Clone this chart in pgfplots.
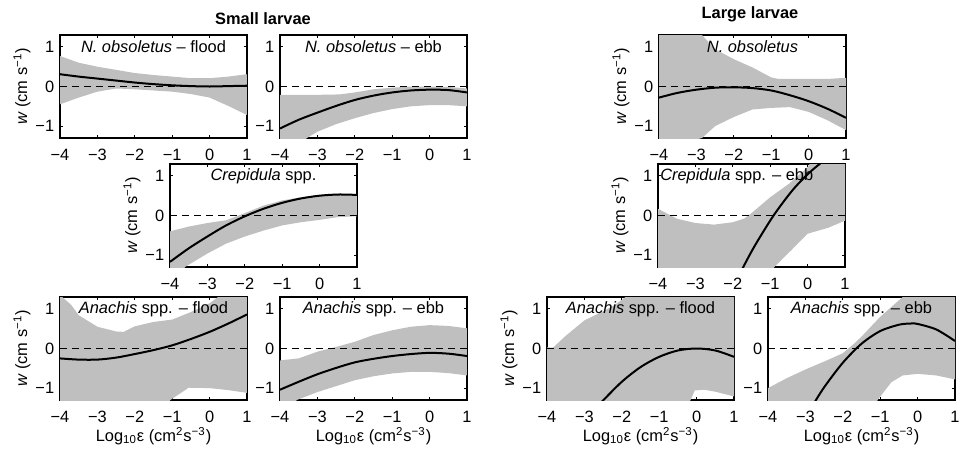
\documentclass[border=0pt]{standalone}
\usepackage{fontspec}
\setmainfont{Liberation Sans}
\usepackage{pgfplots}
\pgfplotsset{compat=1.18}
\usepgfplotslibrary{fillbetween}
\definecolor{band}{RGB}{191,191,191}

% one MATLAB-like panel; 1 px of the reference = 0.5pt
\pgfplotsset{
  panel/.style={
    scale only axis, width=93.5pt, height=51.5pt, anchor=south west,
    xmin=-4, xmax=1, ymin=-1.3, ymax=1.3,
    xtick={-4,-3,-2,-1,0,1}, ytick={-1,0,1},
    xticklabels={−4,−3,−2,−1,0,1}, yticklabels={−1,0,1},
    tick align=inside, major tick length=1.5pt,
    axis line style={line width=0.6pt},
    every tick/.style={black, line width=0.5pt},
    xticklabel style={inner sep=0pt},
    xticklabel shift=5.4pt,
    ylabel={\textit{w} (cm s\textsuperscript{−1})},
    ylabel style={at={(axis description cs:-0.203,0.5)}, anchor=center},
    xlabel style={at={(axis description cs:0.5,-0.35)}, anchor=center, inner sep=0pt},
  },
  mean/.style={black, line width=1pt, smooth},
  zero/.style={black, line width=0.5pt, dash pattern=on 3.5pt off 2.5pt},
}
\newcommand{\elab}{Log\textsubscript{10}ε (cm\textsuperscript{2}s\textsuperscript{−3})}

\begin{document}
\fontsize{8.2}{9.8}\selectfont
\begin{tikzpicture}
\node[font=\bfseries] at (131.5pt,216.5pt) {Small larvae};
\node[font=\bfseries] at (375pt,219pt) {Large larvae};

% ---------- small larvae ----------
\begin{axis}[panel, at={(30pt,157pt)}]
\addplot[draw=none, name path=u] coordinates {(-4,0.77) (-3.5,0.6) (-3,0.5) (-2.5,0.42) (-2,0.34) (-1.5,0.29) (-1,0.25) (-0.5,0.21) (0,0.21) (0.5,0.25) (1,0.31)};
\addplot[draw=none, name path=l] coordinates {(-4,-0.45) (-3.5,-0.28) (-3,-0.13) (-2.5,-0.05) (-2,-0.07) (-1.5,-0.1) (-1,-0.13) (-0.5,-0.19) (0,-0.28) (0.5,-0.49) (1,-0.72)};
\addplot[fill=band, draw=none] fill between[of=u and l];
\addplot[zero] coordinates {(-4,0) (1,0)};
\addplot[mean] coordinates {(-4,0.31) (-3.5,0.25) (-3,0.2) (-2.5,0.15) (-2,0.1) (-1.5,0.06) (-1,0.03) (-0.5,0.01) (0,0) (0.5,0.01) (1,0.02)};
\node at (axis cs:-1.5,1) {\textit{N. obsoletus} – flood};
\end{axis}

\begin{axis}[panel, at={(140pt,157pt)}, ylabel={}]
\addplot[draw=none, name path=u] coordinates {(-4,-0.21) (-3,-0.21) (-2.4,-0.2) (-2,-0.15) (-1.5,-0.07) (-1,-0.03) (-0.5,0) (0,0) (0.5,-0.01) (1,-0.05)};
\addplot[draw=none, name path=l] coordinates {(-4,-1.9) (-3.5,-1.5) (-3.28,-1.3) (-3,-1.14) (-2.5,-0.95) (-2,-0.8) (-1.5,-0.67) (-1,-0.57) (-0.5,-0.5) (0,-0.47) (0.5,-0.47) (1,-0.5)};
\addplot[fill=band, draw=none] fill between[of=u and l];
\addplot[zero] coordinates {(-4,0) (1,0)};
\addplot[mean] coordinates {(-4,-1.06) (-3.5,-0.84) (-3,-0.66) (-2.5,-0.49) (-2,-0.34) (-1.5,-0.23) (-1,-0.15) (-0.5,-0.1) (0,-0.08) (0.5,-0.09) (1,-0.15)};
\node at (axis cs:-1.5,1) {\textit{N. obsoletus} – ebb};
\end{axis}

\begin{axis}[panel, at={(85pt,92.5pt)}]
\addplot[draw=none, name path=u] coordinates {(-4,-0.4) (-3.5,-0.28) (-3,-0.19) (-2.5,-0.12) (-2,0.06) (-1.5,0.25) (-1,0.38) (-0.5,0.46) (0,0.52) (0.5,0.55) (1,0.53)};
\addplot[draw=none, name path=l] coordinates {(-4,-2) (-3.6,-1.3) (-3,-0.96) (-2.5,-0.71) (-2,-0.53) (-1.5,-0.38) (-1,-0.25) (-0.5,-0.17) (0,-0.11) (0.5,-0.04) (1,-0.02)};
\addplot[fill=band, draw=none] fill between[of=u and l];
\addplot[zero] coordinates {(-4,0) (1,0)};
\addplot[mean] coordinates {(-4,-1.17) (-3.5,-0.83) (-3,-0.53) (-2.5,-0.25) (-2,-0.02) (-1.5,0.17) (-1,0.32) (-0.5,0.43) (0,0.5) (0.5,0.53) (1,0.52)};
\node at (axis cs:-1.5,1) {\textit{Crepidula} spp.};
\end{axis}

\begin{axis}[panel, at={(30pt,26pt)}, xlabel={\elab}]
\addplot[draw=none, name path=u] coordinates {(-4,1.35) (-3.7,1.1) (-3.5,0.84) (-3,0.55) (-2.5,0.43) (-2.3,0.42) (-2,0.56) (-1.5,0.67) (-1,0.73) (-0.5,0.92) (0,1.14) (0.5,1.5) (1,1.8)};
\addplot[draw=none, name path=l] coordinates {(-4,-1.6) (-1.2,-1.6) (-1.05,-1.3) (-0.56,-0.99) (0,-1.0) (0.5,-1.05) (1,-1.12)};
\addplot[fill=band, draw=none] fill between[of=u and l];
\addplot[zero] coordinates {(-4,0) (1,0)};
\addplot[mean] coordinates {(-4,-0.25) (-3.5,-0.28) (-3,-0.28) (-2.5,-0.23) (-2,-0.14) (-1.5,-0.04) (-1,0.08) (-0.5,0.24) (0,0.42) (0.5,0.63) (1,0.86)};
\node at (axis cs:-1.5,1) {\textit{Anachis} spp. – flood};
\end{axis}

\begin{axis}[panel, at={(140pt,26pt)}, ylabel={}, xlabel={\elab}]
\addplot[draw=none, name path=u] coordinates {(-4,-0.3) (-3.5,-0.25) (-3,-0.08) (-2.5,0.04) (-2,0.17) (-1.5,0.34) (-1,0.46) (-0.5,0.55) (0,0.59) (0.5,0.57) (1,0.51)};
\addplot[draw=none, name path=l] coordinates {(-4,-1.7) (-3.55,-1.3) (-3,-1.1) (-2.5,-0.95) (-2,-0.8) (-1.5,-0.7) (-1,-0.63) (-0.5,-0.59) (0,-0.59) (0.5,-0.62) (1,-0.68)};
\addplot[fill=band, draw=none] fill between[of=u and l];
\addplot[zero] coordinates {(-4,0) (1,0)};
\addplot[mean] coordinates {(-4,-1.04) (-3.5,-0.84) (-3,-0.65) (-2.5,-0.49) (-2,-0.35) (-1.5,-0.26) (-1,-0.19) (-0.5,-0.14) (0,-0.11) (0.5,-0.13) (1,-0.19)};
\node at (axis cs:-1.5,1) {\textit{Anachis} spp. – ebb};
\end{axis}

% ---------- large larvae ----------
\begin{axis}[panel, at={(329.5pt,157pt)}]
\addplot[draw=none, name path=u] coordinates {(-4,1.6) (-2.9,1.35) (-2.5,0.94) (-2,0.69) (-1.5,0.48) (-1,0.23) (-0.8,0.19) (-0.5,0.19) (0,0.19) (0.5,0.19) (1,0.22)};
\addplot[draw=none, name path=l] coordinates {(-4,-1.6) (-2.85,-1.3) (-2.5,-1.0) (-2,-0.77) (-1.5,-0.58) (-1,-0.54) (-0.5,-0.52) (0,-0.64) (0.5,-0.85) (1,-1.1)};
\addplot[fill=band, draw=none] fill between[of=u and l];
\addplot[zero] coordinates {(-4,0) (1,0)};
\addplot[mean] coordinates {(-4,-0.28) (-3.5,-0.16) (-3,-0.08) (-2.5,-0.03) (-2,-0.02) (-1.5,-0.04) (-1,-0.1) (-0.5,-0.22) (0,-0.37) (0.5,-0.56) (1,-0.79)};
\node at (axis cs:-1.5,1) {\textit{N. obsoletus}};
\end{axis}

\begin{axis}[panel, at={(329pt,92.5pt)}]
\addplot[draw=none, name path=u] coordinates {(-4,0.17) (-3.5,-0.08) (-3,-0.19) (-2.5,-0.23) (-2,-0.17) (-1.7,-0.08) (-1.5,0.06) (-1,0.46) (-0.5,0.8) (0,1.22) (0.2,1.5) (1,1.8)};
\addplot[draw=none, name path=l] coordinates {(-4,-1.6) (-1,-1.6) (-0.89,-1.3) (-0.44,-0.88) (0,-0.46) (0.55,-0.31) (1,-0.13)};
\addplot[fill=band, draw=none] fill between[of=u and l];
\addplot[zero] coordinates {(-4,0) (1,0)};
\addplot[mean] coordinates {(-1.91,-1.66) (-1.72,-1.3) (-1.41,-0.76) (-0.91,0) (-0.41,0.63) (0,1.04) (0.32,1.3) (0.49,1.42)};
\node[anchor=west, inner sep=0pt] at (axis cs:-3.95,1) {\textit{Crepidula} spp. – ebb};
\end{axis}

\begin{axis}[panel, at={(273.5pt,26pt)}, xlabel={\elab}]
\addplot[draw=none, name path=u] coordinates {(-4,0.03) (-3.84,0.02) (-3.5,0.32) (-3,0.71) (-2.5,0.94) (-2.2,1.09) (-1.9,1.3) (-1.5,1.6) (1,1.8)};
\addplot[draw=none, name path=l] coordinates {(-4,-1.6) (-0.2,-1.6) (-0.18,-1.34) (-0.05,-1.06) (0.2,-1.04) (0.5,-1.09) (1,-1.21)};
\addplot[fill=band, draw=none] fill between[of=u and l];
\addplot[zero] coordinates {(-4,0) (1,0)};
\addplot[mean] coordinates {(-2.7,-1.5) (-2.5,-1.31) (-2,-0.84) (-1.5,-0.47) (-1,-0.21) (-0.5,-0.05) (0,0) (0.5,-0.05) (1,-0.21)};
\node at (axis cs:-1.5,1) {\textit{Anachis} spp. – flood};
\end{axis}

\begin{axis}[panel, at={(384pt,26pt)}, ylabel={}, xlabel={\elab}]
\addplot[draw=none, name path=u] coordinates {(-4,-1.0) (-3.5,-0.75) (-3,-0.53) (-2.5,-0.33) (-2,-0.12) (-1.7,0.12) (-1.5,0.3) (-1,0.8) (-0.4,1.3) (0,1.6) (1,1.9)};
\addplot[draw=none, name path=l] coordinates {(-4,-1.6) (-1.15,-1.6) (-1.07,-1.3) (-0.7,-0.85) (-0.4,-0.68) (0,-0.64) (0.5,-0.68) (1,-0.78)};
\addplot[fill=band, draw=none] fill between[of=u and l];
\addplot[zero] coordinates {(-4,0) (1,0)};
\addplot[mean] coordinates {(-2.8,-1.43) (-2.5,-0.98) (-2,-0.36) (-1.5,0.12) (-1,0.44) (-0.5,0.6) (-0.2,0.63) (0,0.62) (0.5,0.48) (1,0.19)};
\node at (axis cs:-1.5,1) {\textit{Anachis} spp. – ebb};
\end{axis}

\path (0,0) rectangle (482.5pt,226pt);
\end{tikzpicture}
\end{document}
